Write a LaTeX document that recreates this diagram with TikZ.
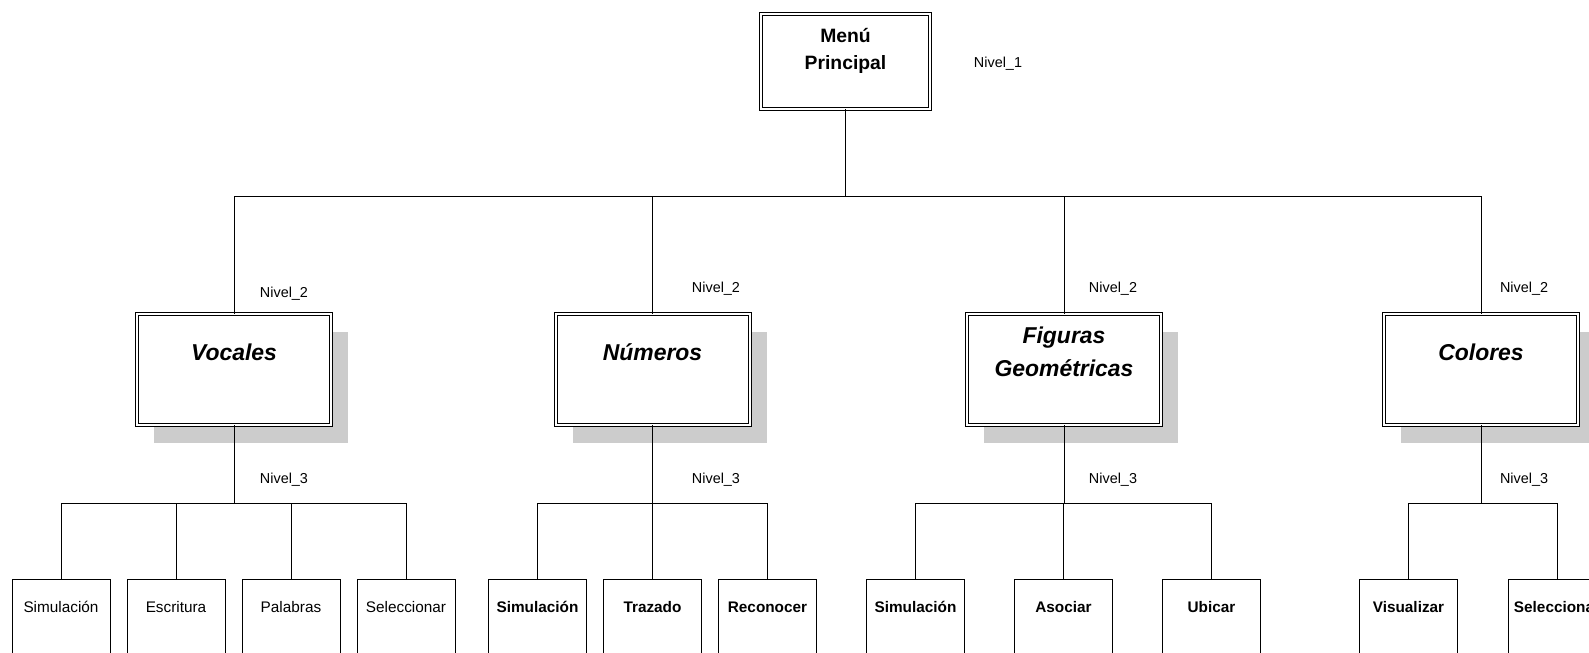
\documentclass[tikz,border=0pt]{standalone}
\usepackage{fontspec}
\setmainfont{Liberation Sans}
\usetikzlibrary{shadows}
\newdimen\pxu \pxu=0.75pt

\begin{document}
\begin{tikzpicture}[x=0.75pt, y=-0.75pt, line width=0.75pt,
  menu/.style={draw, double, double distance=1.5pt, line width=0.75pt, anchor=north,
    outer sep=0pt, inner ysep=0pt, minimum width=169\pxu, text height=55\pxu,
    text depth=40\pxu, align=center, font=\bfseries\fontsize{14.5}{20.25}\selectfont},
  modulo/.style={draw, double, double distance=1.5pt, line width=0.75pt, fill=white,
    anchor=north, outer sep=0pt, inner ysep=0pt, minimum width=194\pxu,
    text height=46\pxu, text depth=65\pxu, align=center,
    font=\bfseries\itshape\fontsize{17.2}{24.75}\selectfont,
    drop shadow={shadow xshift=17\pxu, shadow yshift=-18\pxu, fill=gray!40, opacity=1}},
  hoja/.style={draw, anchor=north, outer sep=0pt, inner ysep=0pt, minimum width=98\pxu,
    text height=33\pxu, text depth=67\pxu, font=\fontsize{11.5}{13.8}\selectfont},
  hojab/.style={hoja, font=\bfseries\fontsize{11.5}{13.8}\selectfont},
  nivel/.style={font=\fontsize{10.8}{12.6}\selectfont}]
  \useasboundingbox (0,0) rectangle (1589,653);
  \clip (0,0) rectangle (1589,653);

  % nivel 1
  \node[menu] (menu) at (845.5,14) {Menú\\Principal};
  \node[nivel] (n1) at (998,64) {Nivel\_1};

  % nivel 2
  \node[modulo] (voc) at (234,314) {Vocales};
  \node[modulo] (num) at (652.5,314) {Números};
  \node[modulo, text height=62\pxu, text depth=49\pxu] (fig) at (1064,314) {Figuras\\Geométricas};
  \node[modulo] (col) at (1481,314) {Colores};

  \coordinate (bus) at (846,196);
  \draw (menu.south) -- (menu.south |- bus);
  \draw (voc.north) |- (col.north |- bus) -- (col.north);
  \draw (num.north) -- (num.north |- bus);
  \draw (fig.north) -- (fig.north |- bus);

  \node[nivel] (n2a) at (284,294) {Nivel\_2};
  \node[nivel] (n2b) at (716,289) {Nivel\_2};
  \node[nivel] (n2c) at (1113,289) {Nivel\_2};
  \node[nivel] (n2d) at (1524,289) {Nivel\_2};

  % nivel 3
  \foreach \x/\n/\t in {61/v1/Simulación, 176/v2/Escritura, 291/v3/Palabras, 406/v4/Seleccionar}
    \node[hoja] (\n) at (\x,579.5) {\t};
  \foreach \x/\n/\t in {537.5/m1/Simulación, 652.5/m2/Trazado, 767.5/m3/Reconocer}
    \node[hojab] (\n) at (\x,579.5) {\t};
  \foreach \x/\n/\t in {915.5/f1/Simulación, 1063.5/f2/Asociar, 1211.5/f3/Ubicar}
    \node[hojab] (\n) at (\x,579.5) {\t};
  \foreach \x/\n/\t in {1408.5/c1/Visualizar, 1557/c2/Seleccionar}
    \node[hojab] (\n) at (\x,579.5) {\t};

  \coordinate (b3) at (0,503);
  \draw (voc.south) -- (voc.south |- b3);
  \draw (v1.north) |- (v4.north |- b3) -- (v4.north);
  \foreach \n in {v2,v3} \draw (\n.north) -- (\n.north |- b3);
  \draw (num.south) -- (num.south |- b3);
  \draw (m1.north) |- (m3.north |- b3) -- (m3.north);
  \draw (m2.north) -- (m2.north |- b3);
  \draw (fig.south) -- (fig.south |- b3);
  \draw (f1.north) |- (f3.north |- b3) -- (f3.north);
  \draw (f2.north) -- (f2.north |- b3);
  \draw (col.south) -- (col.south |- b3);
  \draw (c1.north) |- (c2.north |- b3) -- (c2.north);

  \node[nivel] (n3a) at (284,480) {Nivel\_3};
  \node[nivel] (n3b) at (716,480) {Nivel\_3};
  \node[nivel] (n3c) at (1113,480) {Nivel\_3};
  \node[nivel] (n3d) at (1524,480) {Nivel\_3};
\end{tikzpicture}
\end{document}
